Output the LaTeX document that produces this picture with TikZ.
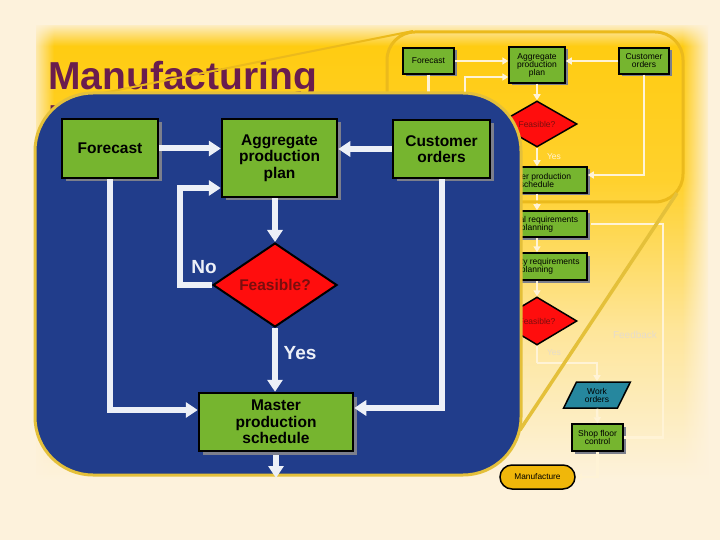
\documentclass[tikz,border=0pt]{standalone}
\usepackage{fontspec}
\setmainfont{Liberation Sans}
\usetikzlibrary{arrows.meta,shapes.geometric,shadows,fadings}

\definecolor{bgcream}{HTML}{FDF2DC}
\definecolor{bgyellow}{HTML}{FFCB0E}
\definecolor{rimgold}{HTML}{EBBA1C}
\definecolor{panelblue}{HTML}{213D8B}
\definecolor{panelgold}{HTML}{E4C03A}
\definecolor{boxgreen}{HTML}{76B52F}
\definecolor{boxshadow}{HTML}{7C7F8C}
\definecolor{decred}{HTML}{FF0D0D}
\definecolor{dectext}{HTML}{7A0E0E}
\definecolor{flowwhite}{HTML}{EDF0F7}
\definecolor{flowpale}{HTML}{FFF3D6}
\definecolor{fadedtext}{HTML}{E6DCCB}
\definecolor{workteal}{HTML}{26879E}
\definecolor{manugold}{HTML}{F0B70A}
\definecolor{titlepurple}{HTML}{6A1D4E}

\tikzfading[name=fadetoright, left color=transparent!0, right color=transparent!100]
\tikzfading[name=fadetoleft, left color=transparent!100, right color=transparent!0]
\tikzfading[name=fadetodown, top color=transparent!0, bottom color=transparent!100]

\begin{document}
\begin{tikzpicture}[x=1pt, y=-1pt,
    big/.style = {draw, line width=2.5pt, fill=boxgreen, align=center, inner sep=0pt,
      font=\bfseries\fontsize{15.5}{16.5}\selectfont,
      general shadow={fill=boxshadow, shadow xshift=3.5pt, shadow yshift=-3.5pt}},
    small/.style = {draw, line width=1.5pt, fill=boxgreen, align=center, inner sep=0pt,
      font=\fontsize{8.5}{8}\selectfont,
      general shadow={fill=boxshadow, shadow xshift=2.5pt, shadow yshift=-2.5pt}},
    decision/.style = {diamond, draw, fill=decred, inner sep=0pt, text=dectext},
    bigarr/.style = {draw=flowwhite, line width=6pt, -{Triangle[width=15pt,length=12pt]}},
    smallarr/.style = {draw=flowpale, line width=2.5pt, -{Triangle[width=7pt,length=6pt]}},
    smallline/.style = {draw=flowpale, line width=2.5pt}]

    % backdrop
    \fill[bgcream] (0,0) rectangle (720,540);
    \useasboundingbox (0,0) rectangle (720,540);
    \shade[top color=bgyellow, bottom color=bgyellow!85!bgcream] (36,26) rectangle (708,181);
    \shade[top color=bgyellow!85!bgcream, bottom color=bgcream, middle color=bgyellow!32!bgcream]
        (36,180) rectangle (708,480);
    \fill[bgcream, path fading=fadetoright] (30,20) rectangle (54,520);
    \fill[bgcream, path fading=fadetoleft] (682,20) rectangle (710,520);
    \fill[bgcream, path fading=fadetodown] (30,22) rectangle (710,46);

    \node[anchor=base west, inner sep=0pt, text=titlepurple, font=\bfseries\fontsize{39}{44}\selectfont] (title) at (48,90) {Manufacturing};
    \node[anchor=base west, inner sep=0pt, text=titlepurple, font=\bfseries\fontsize{39}{44}\selectfont] (title2) at (48,133) {P};
    \draw[rimgold, line width=2pt] (80,97.6) -- (413,31);

    % small chart
    \node[small, minimum width=51pt, minimum height=26pt] (sfc) at (428.5,61) {Forecast};
    \node[small, minimum width=56pt, minimum height=36pt] (sapp) at (537,65) {Aggregate\\production\\plan};
    \node[small, minimum width=50pt, minimum height=26pt] (sco) at (644,61) {Customer\\orders};
    \node[decision, line width=1.5pt, minimum width=80pt, minimum height=46pt, font=\fontsize{8.5}{8}\selectfont] (sfeas) at (537,124) {Feasible?};
    \node[small, minimum width=100pt, minimum height=26pt] (smps) at (537,180) {Master production\\schedule};
    \node[small, minimum width=100pt, minimum height=26pt] (smrp) at (537,224) {Material requirements\\planning};
    \node[small, minimum width=100pt, minimum height=27pt] (scrp) at (537,266.5) {Capacity requirements\\planning};
    \node[decision, line width=1.5pt, minimum width=80pt, minimum height=48pt, font=\fontsize{8.5}{8}\selectfont] (sfeas2) at (537,321) {Feasible?};
    \node[trapezium, trapezium left angle=62, trapezium right angle=118, trapezium stretches=true,
          draw, line width=1.5pt, fill=workteal, minimum width=67pt, minimum height=26pt, inner sep=0pt,
          align=center, font=\fontsize{8.5}{8}\selectfont] (swo) at (597,395) {Work\\orders};
    \node[small, minimum width=51pt, minimum height=27pt] (ssfc) at (597.5,437.5) {Shop floor\\control};
    \node[draw, line width=1.5pt, fill=manugold, rounded corners=12pt, minimum width=75pt, minimum height=24pt,
          inner sep=0pt, font=\fontsize{8.3}{8}\selectfont] (smanu) at (537.5,477) {Manufacture};

    \draw[smallarr] (sfc.east) -- (sfc.east -| sapp.west);
    \draw[smallarr] (sco.west) -- (sco.west -| sapp.east);
    \coordinate (snoturn) at (465,124);
    \draw[smallarr] (sfeas.west) -- (snoturn) |- ([yshift=-12pt]sapp.west);
    \draw[smallarr] (sfc.south) |- ([yshift=5pt]smps.west);
    \draw[smallarr] (sapp.south) -- (sfeas.north);
    \draw[smallarr] (sfeas.south) -- (smps.north);
    \node[text=flowpale, font=\fontsize{8.5}{9}\selectfont] (syes) at (554,157) {Yes};
    \draw[smallarr] (sco.south) |- ([yshift=5pt]smps.east);
    \draw[smallarr] (smps.south) -- (smrp.north);
    \draw[smallarr] (smrp.south) -- (scrp.north);
    \draw[smallarr] (scrp.south) -- (sfeas2.north);
    \coordinate (sbranch) at (537,363);
    \draw[smallline] (sfeas2.south) -- (sbranch);
    \draw[smallarr] (sbranch) -| (swo.north);
    \node[text=fadedtext, font=\fontsize{8.5}{9}\selectfont] (syes2) at (554,353) {Yes};
    \draw[smallarr] (swo.south) -- (ssfc.north);
    \draw[smallarr] (ssfc.south) |- (smanu.east);
    \coordinate (sfbturn) at (663,330);
    \draw[smallline] (ssfc.east) -| (sfbturn) |- ([xshift=3pt]smrp.east);
    \node[text=fadedtext, font=\fontsize{10}{11}\selectfont] (sfb) at (635,335) {Feedback};

    % frame of the small chart and the zoom lines
    \draw[rimgold, line width=3pt, rounded corners=28pt] (387,32) rectangle (683,202);
    \draw[panelgold, line width=3.5pt] (520,430) -- (677,193);

    % magnified panel
    \draw[panelgold, line width=3pt, fill=panelblue, rounded corners=58pt] (35,93) rectangle (521,475);

    \node[big, minimum width=96pt, minimum height=59pt] (fc) at (110,148.5) {Forecast};
    \node[big, minimum width=115pt, minimum height=78pt] (app) at (279.5,158) {Aggregate\\production\\plan};
    \node[big, minimum width=97pt, minimum height=58pt] (co) at (441.5,149) {Customer\\orders};
    \node[decision, line width=2pt, minimum width=124pt, minimum height=84pt, font=\bfseries\fontsize{15.5}{16.5}\selectfont] (feas) at (275,285) {Feasible?};
    \node[big, minimum width=154pt, minimum height=58pt] (mps) at (276,422) {Master\\production\\schedule};

    \draw[bigarr] (fc.east) -- (fc.east -| app.west);
    \draw[bigarr] (co.west) -- (co.west -| app.east);
    \draw[bigarr] (app.south -| feas.north) -- (feas.north);
    \coordinate (noturn) at (180,285);
    \draw[bigarr] (feas.west) -- (noturn) |- ([yshift=-30pt]app.west);
    \node[text=flowwhite, font=\bfseries\fontsize{19}{20}\selectfont] (no) at (204,267) {No};
    \draw[bigarr] (feas.south) -- (feas.south |- mps.north);
    \node[text=flowwhite, font=\bfseries\fontsize{19}{20}\selectfont] (yes) at (300,353) {Yes};
    \draw[bigarr] (fc.south) |- ([yshift=12pt]mps.west);
    \draw[bigarr] (co.south) |- ([yshift=14pt]mps.east);
    \coordinate (mpsout) at (276,478);
    \draw[bigarr] ([yshift=-3pt]mps.south) -- (mpsout);
\end{tikzpicture}
\end{document}
